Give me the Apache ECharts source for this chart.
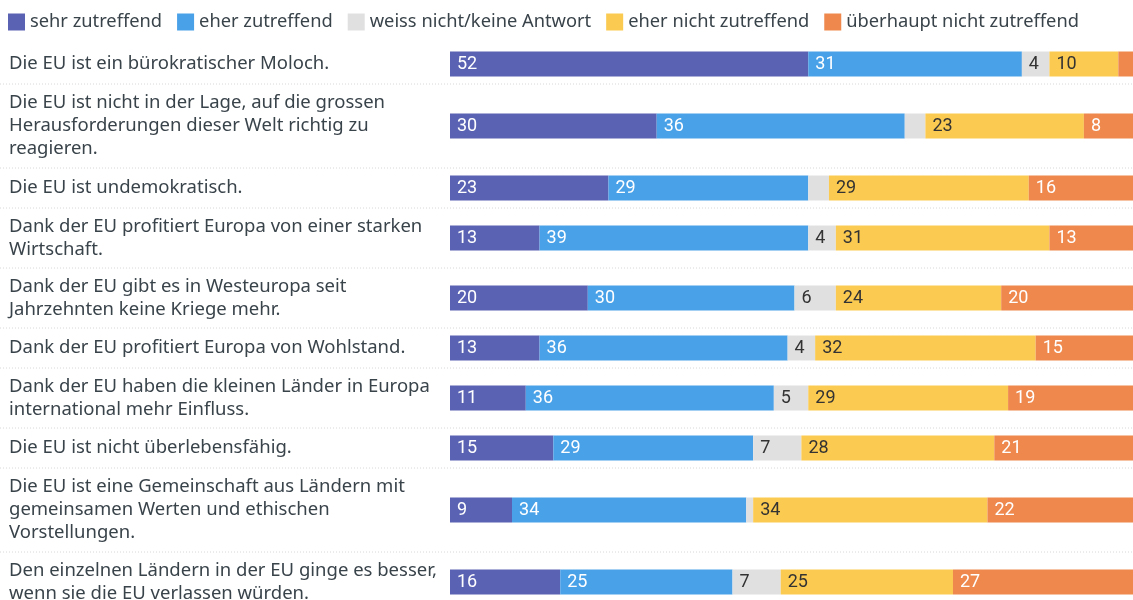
<!DOCTYPE html>
<html>
<head>
    <meta charset="utf-8" />
    <style>
        html, body { margin: 0; padding: 0; background: #fff; }
        #chart { width: 1133px; height: 600px; }
    </style>
    <script src="https://cdn.jsdelivr.net/npm/echarts@6/dist/echarts.min.js"></script>
</head>
<body>
    <div id="chart"></div>
    <script type="text/javascript">
        // Aussagen (Zeilenumbrüche wie im Original)
        var categories = [
            'Die EU ist ein bürokratischer Moloch.',
            'Die EU ist nicht in der Lage, auf die grossen\nHerausforderungen dieser Welt richtig zu\nreagieren.',
            'Die EU ist undemokratisch.',
            'Dank der EU profitiert Europa von einer starken\nWirtschaft.',
            'Dank der EU gibt es in Westeuropa seit\nJahrzehnten keine Kriege mehr.',
            'Dank der EU profitiert Europa von Wohlstand.',
            'Dank der EU haben die kleinen Länder in Europa\ninternational mehr Einfluss.',
            'Die EU ist nicht überlebensfähig.',
            'Die EU ist eine Gemeinschaft aus Ländern mit\ngemeinsamen Werten und ethischen\nVorstellungen.',
            'Den einzelnen Ländern in der EU ginge es besser,\nwenn sie die EU verlassen würden.'
        ];

        var seriesNames = ['sehr zutreffend', 'eher zutreffend', 'weiss nicht/keine Antwort', 'eher nicht zutreffend', 'überhaupt nicht zutreffend'];

        var sehr       = [52, 30, 23, 13, 20, 13, 11, 15, 9, 16];
        var eher       = [31, 36, 29, 39, 30, 36, 36, 29, 34, 25];
        var weiss      = [4, 3, 3, 4, 6, 4, 5, 7, 1, 7];
        var eherNicht  = [10, 23, 29, 31, 24, 32, 29, 28, 34, 25];
        var ueberhaupt = [3, 8, 16, 13, 20, 15, 19, 21, 22, 27];

        var values = [sehr, eher, weiss, eherNicht, ueberhaupt];
        var colors = ['#5a63b3', '#49a1e8', '#e0e0e0', '#fbca50', '#ee884d'];
        var labelColors = ['#fff', '#fff', '#333', '#333', '#fff'];

        var textColor = '#39434a';
        var plotLeft = 450, plotWidth = 689, firstTop = 44;

        // Zeilenhöhe je nach Anzahl Textzeilen
        function rowHeight(text) {
            var lines = text.split('\n').length;
            return lines === 1 ? 40 : (lines === 2 ? 60 : 84);
        }

        var grids = [], xAxes = [], yAxes = [], series = [], graphics = [];
        var rowTop = firstTop;
        categories.forEach(function (cat, i) {
            var h = rowHeight(cat);
            grids.push({ left: plotLeft, width: plotWidth, top: rowTop, height: h, outerBoundsMode: 'none' });
            xAxes.push({ gridIndex: i, type: 'value', min: 0, max: 100, show: false });
            yAxes.push({
                gridIndex: i, type: 'category', data: [cat],
                axisLine: { show: false }, axisTick: { show: false },
                axisLabel: {
                    align: 'left', margin: plotLeft - 9,
                    color: textColor, fontFamily: 'Noto Sans', fontSize: 18.5, lineHeight: 23
                }
            });
            values.forEach(function (arr, s) {
                series.push({
                    name: seriesNames[s], type: 'bar', stack: 'row' + i,
                    xAxisIndex: i, yAxisIndex: i, barWidth: 25,
                    itemStyle: { color: colors[s] },
                    label: {
                        show: true, position: 'insideLeft', distance: 7,
                        color: labelColors[s], fontFamily: 'Roboto', fontSize: 18,
                        formatter: function (p) { return p.value > 3 ? p.value : ''; }
                    },
                    emphasis: { disabled: true },
                    data: [arr[i]]
                });
            });
            rowTop += h;
            // gepunktete Trennlinie unter der Zeile
            if (i < categories.length - 1) {
                graphics.push({
                    type: 'line', z: -1,
                    shape: { x1: 0, y1: rowTop, x2: 1133, y2: rowTop },
                    style: { stroke: '#d8d8d8', lineWidth: 1, lineDash: [1, 2] }
                });
            }
        });

        var option = {
            animation: false,
            backgroundColor: '#fff',
            legend: {
                data: seriesNames, left: 8, top: 13, padding: 0,
                icon: 'rect', itemWidth: 17, itemHeight: 17, itemGap: 15,
                selectedMode: false,
                textStyle: { color: textColor, fontFamily: 'Noto Sans', fontSize: 18.3 }
            },
            grid: grids,
            xAxis: xAxes,
            yAxis: yAxes,
            graphic: graphics,
            series: series
        };

        var myChart = echarts.init(document.getElementById('chart'));
        myChart.setOption(option);
    </script>
</body>
</html>
